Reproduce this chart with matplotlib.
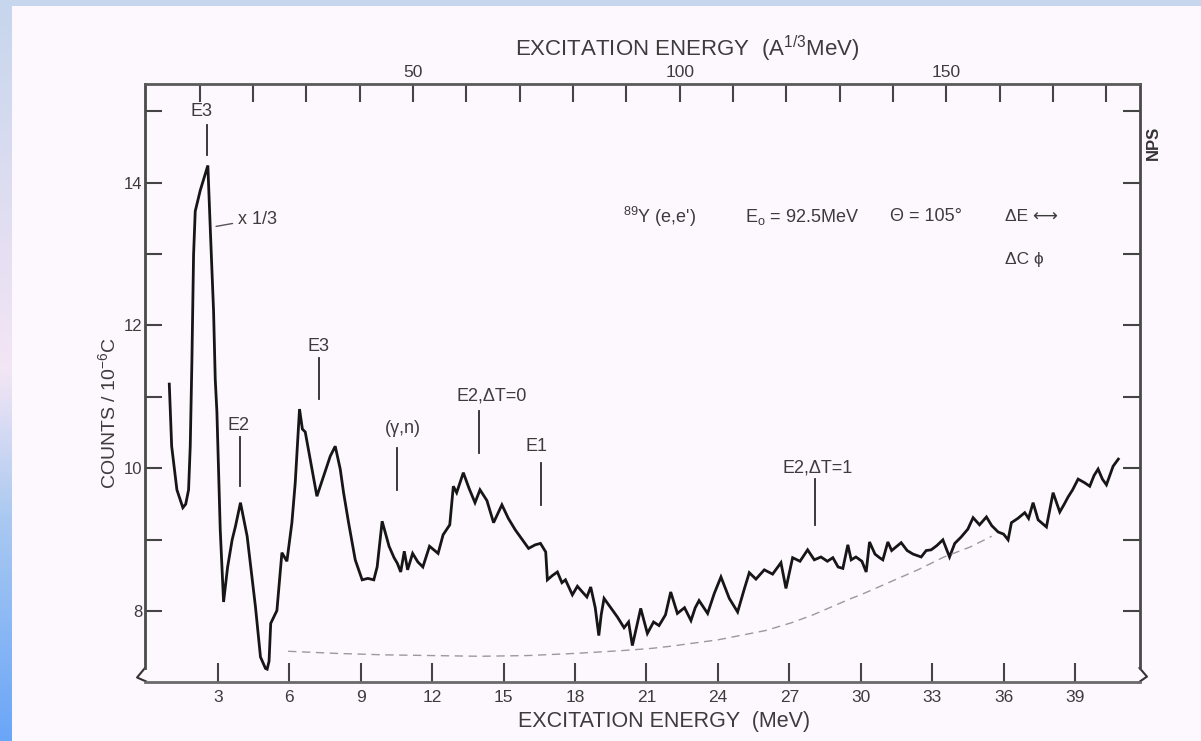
import numpy as np
import matplotlib
matplotlib.use("Agg")
import matplotlib.pyplot as plt
from matplotlib.colors import LinearSegmentedColormap

plt.rcParams["font.family"] = ["Liberation Sans", "DejaVu Sans"]
plt.rcParams["mathtext.fontset"] = "custom"
plt.rcParams["mathtext.rm"] = "Liberation Sans"
plt.rcParams["mathtext.it"] = "Liberation Sans:italic"

# 89Y(e,e') spectrum, excitation energy in MeV and counts per 1e-6 C
energy = [
    0.96, 1.06, 1.28, 1.53, 1.65, 1.77, 1.84, 1.91, 1.98, 2.05,
    2.26, 2.58, 2.68, 2.82, 2.89, 2.96, 3.10, 3.24, 3.41, 3.60,
    3.74, 3.95, 4.23, 4.58, 4.79, 5.00, 5.07, 5.15, 5.22, 5.48,
    5.69, 5.90, 6.11, 6.25, 6.43, 6.55, 6.67, 7.16, 7.72, 7.93,
    8.14, 8.28, 8.49, 8.77, 9.06, 9.30, 9.55, 9.69, 9.90, 10.19,
    10.40, 10.54, 10.68, 10.83, 10.97, 11.18, 11.40, 11.61, 11.89, 12.25,
    12.46, 12.74, 12.89, 13.03, 13.31, 13.55, 13.80, 14.01, 14.30, 14.58,
    14.93, 15.20, 15.49, 15.75, 16.05, 16.33, 16.55, 16.77, 16.84, 17.05,
    17.26, 17.45, 17.60, 17.89, 18.10, 18.31, 18.50, 18.66, 18.85, 19.00,
    19.10, 19.22, 19.50, 19.78, 20.06, 20.25, 20.41, 20.60, 20.76, 21.04,
    21.30, 21.53, 21.80, 22.02, 22.30, 22.60, 22.87, 23.05, 23.21, 23.57,
    23.85, 24.13, 24.48, 24.83, 25.10, 25.32, 25.60, 25.95, 26.30, 26.65,
    26.86, 27.14, 27.45, 27.77, 28.05, 28.33, 28.60, 28.83, 29.05, 29.25,
    29.46, 29.60, 29.80, 30.05, 30.23, 30.37, 30.60, 30.79, 30.93, 31.14,
    31.30, 31.70, 31.95, 32.20, 32.54, 32.75, 32.96, 33.20, 33.45, 33.73,
    33.95, 34.22, 34.50, 34.72, 34.99, 35.28, 35.50, 35.77, 36.00, 36.19,
    36.33, 36.60, 36.89, 37.05, 37.24, 37.45, 37.80, 38.08, 38.36, 38.55,
    38.71, 38.90, 39.13, 39.40, 39.62, 39.80, 39.97, 40.15, 40.32, 40.60,
    40.82,
]
counts = [
    11.18, 10.31, 9.70, 9.45, 9.50, 9.70, 10.31, 11.50, 12.99, 13.60,
    13.89, 14.24, 13.37, 12.20, 11.25, 10.79, 9.14, 8.13, 8.62, 9.00,
    9.19, 9.52, 9.05, 8.06, 7.36, 7.20, 7.19, 7.30, 7.83, 8.01,
    8.82, 8.70, 9.24, 9.80, 10.83, 10.55, 10.51, 9.61, 10.17, 10.31,
    9.99, 9.66, 9.24, 8.72, 8.44, 8.46, 8.44, 8.62, 9.26, 8.91,
    8.75, 8.67, 8.55, 8.84, 8.58, 8.81, 8.69, 8.62, 8.91, 8.81,
    9.07, 9.21, 9.75, 9.66, 9.94, 9.72, 9.52, 9.70, 9.55, 9.24,
    9.49, 9.30, 9.14, 9.02, 8.88, 8.93, 8.95, 8.83, 8.44, 8.50,
    8.55, 8.40, 8.44, 8.23, 8.35, 8.27, 8.20, 8.34, 8.05, 7.66,
    7.95, 8.18, 8.05, 7.92, 7.77, 7.85, 7.52, 7.80, 8.04, 7.69,
    7.85, 7.80, 7.95, 8.27, 7.97, 8.05, 7.87, 8.05, 8.15, 7.97,
    8.25, 8.48, 8.18, 7.99, 8.30, 8.54, 8.45, 8.58, 8.52, 8.68,
    8.32, 8.75, 8.70, 8.86, 8.72, 8.76, 8.70, 8.75, 8.62, 8.60,
    8.93, 8.72, 8.76, 8.70, 8.55, 8.97, 8.80, 8.75, 8.72, 8.97,
    8.85, 8.96, 8.85, 8.80, 8.76, 8.85, 8.86, 8.92, 9.00, 8.76,
    8.95, 9.04, 9.15, 9.31, 9.21, 9.32, 9.20, 9.11, 9.08, 9.00,
    9.24, 9.30, 9.38, 9.30, 9.52, 9.28, 9.18, 9.66, 9.39, 9.50,
    9.60, 9.70, 9.85, 9.80, 9.75, 9.90, 9.99, 9.85, 9.77, 10.03,
    10.13,
]

# smooth radiative tail under the spectrum
bg_energy = [5.95, 8.0, 10.0, 12.0, 14.0, 16.0, 18.0, 20.0, 21.2, 22.0,
             24.0, 26.0, 27.1, 28.0, 29.6, 30.0, 31.3, 32.4, 33.5, 34.6, 35.5]
bg_counts = [7.44, 7.41, 7.39, 7.38, 7.37, 7.38, 7.41, 7.45, 7.48, 7.51,
             7.60, 7.73, 7.84, 7.95, 8.18, 8.23, 8.42, 8.58, 8.76, 8.90, 9.05]

# multipole assignments: label, energy of the marker, label position, marker span
peak_labels = ["E3", "E2", "E3", "(\u03b3,n)", "E2,\u0394T=0", "E1", "E2,\u0394T=1"]
peak_energy = [2.53, 3.92, 7.26, 10.53, 13.97, 16.58, 28.08]
label_x = [2.31, 3.88, 7.23, 10.75, 14.52, 16.40, 28.20]
label_y = [14.99, 10.60, 11.70, 10.56, 11.02, 10.30, 10.01]
mark_top = [14.80, 10.44, 11.54, 10.29, 10.81, 10.08, 9.85]
mark_bot = [14.39, 9.75, 10.97, 9.70, 10.22, 9.49, 9.21]

# run conditions written in the upper right
conditions = ["$\\mathregular{^{89}}$Y (e,e')", "E$\\mathregular{_o}$ = 92.5MeV",
              "\u0398 = 105\u00b0"]
conditions_x = [0.480, 0.603, 0.749]

bottom_ticks = [3, 6, 9, 12, 15, 18, 21, 24, 27, 30, 33, 36, 39]
top_major = [50, 100, 150]
top_minor = [10, 20, 30, 40, 60, 70, 80, 90, 110, 120, 130, 140, 160, 170, 180]
y_major = [8, 10, 12, 14]
y_minor = [9, 11, 13, 15]
a_third = 89 ** (1 / 3)

ink = "#161616"
grey_text = "#3c3c3c"
paper = "#fdf8fd"

W, H = 1201, 741
fig = plt.figure(figsize=(W / 100, H / 100), dpi=100, facecolor=paper)

# blue frame strips at the top and left edges
cmap = LinearSegmentedColormap.from_list(
    "edge", [(0.0, "#c6d6ec"), (0.35, "#e6e0f2"), (0.5, "#f3e6f5"),
             (0.7, "#aac9f1"), (1.0, "#6aa6f8")])
edge = fig.add_axes([0, 0, 12 / W, 1])
edge.imshow(np.linspace(0, 1, 256).reshape(-1, 1), cmap=cmap, aspect="auto",
            extent=[0, 1, 1, 0])
edge.axis("off")
band = fig.add_axes([0, 1 - 6 / H, 1, 6 / H])
band.set_facecolor("#c6d6ec")
band.set_xticks([])
band.set_yticks([])
for s in band.spines.values():
    s.set_visible(False)

ax = fig.add_axes([145 / W, 1 - 682 / H, 995 / W, 598 / H])
ax.set_facecolor("none")
ax.set_xlim(-0.06, 41.73)
ax.set_ylim(7.01, 15.38)

ax.plot(energy, counts, color=ink, lw=2.0, solid_joinstyle="miter")
ax.plot(bg_energy, bg_counts, color="#9a9a9a", lw=1.0, dashes=(6, 4))

for lab, xe, lx, ly, t, b in zip(peak_labels, peak_energy, label_x, label_y,
                                 mark_top, mark_bot):
    ax.text(lx, ly, lab, ha="center", va="center", fontsize=13, color=grey_text)
    ax.plot([xe, xe], [b, t], color="#2a2a2a", lw=1.3)

# scale factor note on the first peak
ax.annotate("x 1/3", xy=(2.81, 13.38), xytext=(3.85, 13.49), fontsize=13,
            color=grey_text, va="center",
            arrowprops=dict(arrowstyle="-", color="#555555", lw=1.0))

for txt, cx in zip(conditions, conditions_x):
    ax.text(cx, 0.778, txt, transform=ax.transAxes, fontsize=13,
            color=grey_text, va="center")
ax.text(0.864, 0.778, "\u0394E \u27f7", transform=ax.transAxes, fontsize=12.5,
        color=grey_text, va="center")
ax.text(0.864, 0.706, "\u0394C \u03d5", transform=ax.transAxes, fontsize=12.5,
        color=grey_text, va="center")

for side in ["left", "right", "top", "bottom"]:
    ax.spines[side].set_color("#4a4a4a")
    ax.spines[side].set_linewidth(2.0)
ax.spines["bottom"].set_color("#6a6a6a")
ax.spines["top"].set_color("#5a5a5a")
ax.spines["left"].set_bounds(7.2, 15.38)
ax.spines["right"].set_bounds(7.2, 15.38)

# broken-axis marks at the lower corners
brk = dict(color="#333333", lw=1.5, clip_on=False, transform=ax.transAxes)
ax.plot([0.0, -0.008, 0.001], [0.0235, 0.0075, 0.001], **brk)
ax.plot([0.9995, 1.007, 1.0], [0.0235, 0.009, 0.001], **brk)

ax.set_xticks(bottom_ticks)
ax.set_xticklabels([str(t) for t in bottom_ticks])
ax.set_yticks(y_major)
ax.set_yticks(y_minor, minor=True)
ax.set_yticklabels([str(t) for t in y_major])
ax.tick_params(axis="x", direction="in", length=14, width=1.5, pad=6,
               labelsize=12.5, labelcolor=grey_text, color="#444444",
               top=False)
ax.tick_params(axis="y", which="both", direction="in", length=12, width=1.5,
               pad=2, labelsize=12, labelcolor=grey_text, color="#444444",
               right=True)

top = ax.secondary_xaxis("top", functions=(lambda e: e * a_third,
                                           lambda a: a / a_third))
top.set_xticks(top_major)
top.set_xticks(top_minor, minor=True)
top.set_xticklabels([str(t) for t in top_major])
top.tick_params(which="both", direction="in", length=13, width=1.5, pad=3,
                labelsize=12.5, labelcolor=grey_text, color="#444444")
top.spines["top"].set_visible(False)

fig.text(664 / W, 1 - 721 / H, "EXCITATION ENERGY  (MeV)", ha="center",
         va="center", fontsize=15.5, color=grey_text)
fig.text(687 / W, 1 - 49 / H,
         "EXCITATION ENERGY  (A$\\mathregular{^{1/3}}$MeV)", ha="center",
         va="center", fontsize=16, color=grey_text)
fig.text(108 / W, 1 - 413 / H, "COUNTS / 10$\\mathregular{^{-6}}$C",
         rotation=90, ha="center", va="center", fontsize=14, color=grey_text)
fig.text(1153 / W, 1 - 143 / H, "NPS", rotation=90, ha="center", va="center",
         fontsize=12, color="#333333", fontweight="bold")

fig.savefig("out.png", dpi=100, facecolor=paper)
